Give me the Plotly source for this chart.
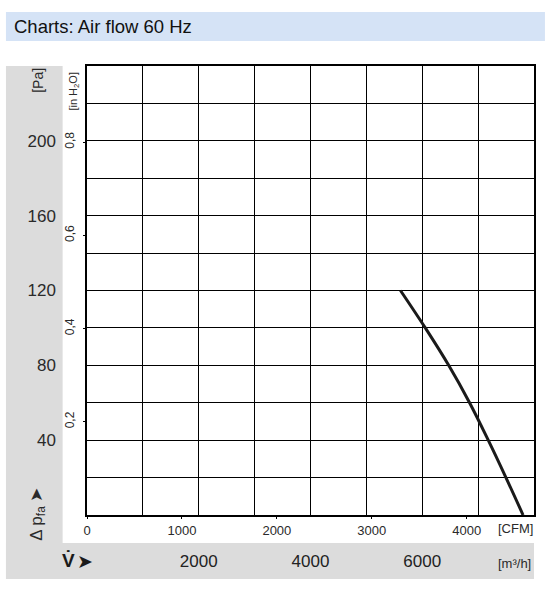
import plotly.graph_objects as go

# fan curve
flow_m3h = [5610, 6055, 6473, 6847, 7181, 7498, 7804]
pressure_pa = [120, 100, 80, 60, 40, 20, 0]

pa_ticks = [40, 80, 120, 160, 200]
inh2o_ticks = [0.2, 0.4, 0.6, 0.8]
inh2o_labels = ['0,2', '0,4', '0,6', '0,8']
cfm_ticks = [0, 1000, 2000, 3000, 4000]
m3h_ticks = [2000, 4000, 6000]

M3H_PER_CFM = 1.69901
PA_PER_INH2O = 249.089

W, H = 547, 595
PL, PR, PT, PB = 86.5, 536, 66, 515  # plot box in pixels

FONT = 'Liberation Sans, Arial, sans-serif'
GREY = '#dcdcdc'
TXT = '#2a2a2a'


def px(x):
    return (x - PL) / (PR - PL)


def py(y):
    return (PB - y) / (PB - PT)


fig = go.Figure()

fig.add_trace(go.Scatter(
    x=flow_m3h, y=pressure_pa,
    mode='lines',
    line=dict(color='#1a1a1a', width=3, shape='spline', smoothing=1),
    showlegend=False, hoverinfo='skip',
))
# dummy traces so the secondary axes get drawn
fig.add_trace(go.Scatter(x=[0], y=[0], xaxis='x2', mode='markers',
                         marker=dict(opacity=0), showlegend=False, hoverinfo='skip'))
fig.add_trace(go.Scatter(x=[0], y=[0], yaxis='y2', mode='markers',
                         marker=dict(opacity=0), showlegend=False, hoverinfo='skip'))

shapes = [
    # title band
    dict(type='rect', xref='paper', yref='paper', x0=px(5), x1=px(547), y0=py(41), y1=py(12),
         fillcolor='#d5e3f6', line=dict(width=0), layer='below'),
    # left grey panel
    dict(type='rect', xref='paper', yref='paper', x0=px(5), x1=px(62), y0=py(579), y1=py(66),
         fillcolor=GREY, line=dict(width=0), layer='below'),
    # bottom grey band
    dict(type='rect', xref='paper', yref='paper', x0=px(5), x1=px(536), y0=py(579), y1=py(543),
         fillcolor=GREY, line=dict(width=0), layer='below'),
]

annotations = [
    dict(text='Charts: Air flow 60 Hz', x=px(11), y=py(26), xanchor='left',
         font=dict(size=18.5, color='#111', family=FONT)),
    dict(text='[Pa]', x=px(37), y=py(80), textangle=-90,
         font=dict(size=14, color=TXT, family=FONT)),
    dict(text='[in H<sub>2</sub>O]', x=px(73), y=py(91), textangle=-90,
         font=dict(size=11, color=TXT, family=FONT)),
    dict(text='Δ p<sub>fa</sub> ➤', x=px(37), y=py(514), textangle=-90,
         font=dict(size=17, color=TXT, family=FONT)),
    dict(text='<b>V̇</b>', x=px(68), y=py(560),
         font=dict(size=19, color='#1a1a1a', family=FONT)),
    dict(text='➤', x=px(84), y=py(561),
         font=dict(size=19, color='#1a1a1a', family=FONT)),
    dict(text='[CFM]', x=px(517), y=py(528),
         font=dict(size=13, color=TXT, family=FONT)),
    dict(text='[m³/h]', x=px(516), y=py(563),
         font=dict(size=13, color=TXT, family=FONT)),
]
for a in annotations:
    a.setdefault('xanchor', 'center')
    a.update(xref='paper', yref='paper', yanchor='middle', showarrow=False)

fig.update_layout(
    width=W, height=H, autosize=False,
    margin=dict(l=PL, r=W - PR, t=PT, b=H - PB, pad=0),
    paper_bgcolor='white', plot_bgcolor='white',
    font=dict(family=FONT, color=TXT),
    shapes=shapes,
    annotations=annotations,
    xaxis=dict(
        range=[0, 8000], tickvals=m3h_ticks, ticks='',
        ticklabelstandoff=30, tickfont=dict(size=17, color='#222'),
        showgrid=True, gridcolor='black', gridwidth=1,
        minor=dict(tickvals=list(range(1000, 8000, 1000)), showgrid=True,
                   gridcolor='black', gridwidth=1),
        showline=True, linecolor='black', linewidth=1.5, mirror=True,
        zeroline=False, fixedrange=True,
    ),
    xaxis2=dict(
        overlaying='x', side='bottom', anchor='y',
        range=[0, 8000 / M3H_PER_CFM], tickvals=cfm_ticks,
        ticks='outside', ticklen=3, tickcolor='black',
        tickfont=dict(size=13, color=TXT),
        showgrid=False, zeroline=False, showline=False,
    ),
    yaxis=dict(
        range=[0, 240], tickvals=pa_ticks, ticks='',
        ticklabelstandoff=26, tickfont=dict(size=17, color=TXT),
        showgrid=True, gridcolor='black', gridwidth=1,
        minor=dict(tickvals=list(range(20, 240, 20)), showgrid=True,
                   gridcolor='black', gridwidth=1),
        showline=True, linecolor='black', linewidth=1.5, mirror=True,
        zeroline=False, fixedrange=True,
    ),
    yaxis2=dict(
        overlaying='y', side='left', anchor='x',
        range=[0, 240 / PA_PER_INH2O], tickvals=inh2o_ticks, ticktext=inh2o_labels,
        ticks='outside', ticklen=3, tickcolor='black', tickangle=-90,
        ticklabelstandoff=4, tickfont=dict(size=12, color=TXT),
        showgrid=False, zeroline=False, showline=False,
    ),
)

# the page body has a default 8px margin; drop it so the figure fills the window
fig.write_html('out.html', config={'displayModeBar': False},
               post_script="document.body.style.margin='0';")
